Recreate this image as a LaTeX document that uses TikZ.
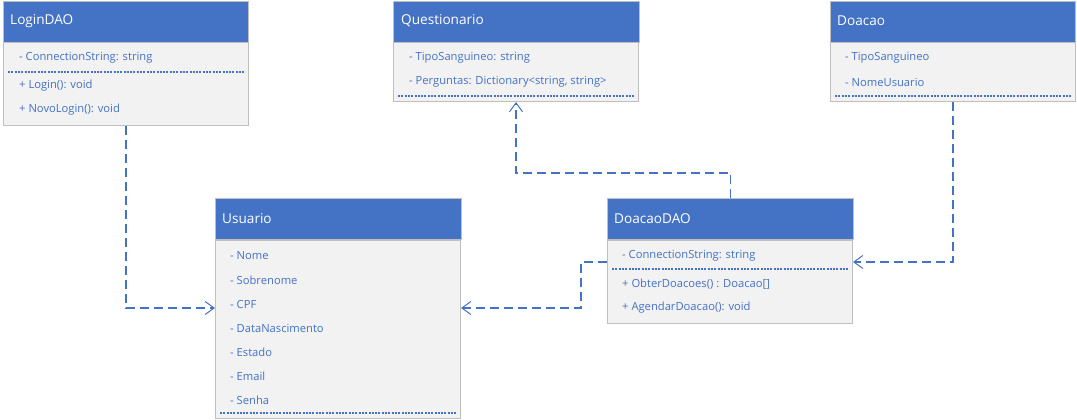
\documentclass[tikz,border=0pt]{standalone}
\usepackage{fontspec}
\setmainfont{Open Sans}
\usetikzlibrary{arrows.meta,calc}
\definecolor{hdrblue}{HTML}{4472C4}
\definecolor{txtblue}{HTML}{4472C4}
\definecolor{bodygray}{HTML}{F2F2F2}
\definecolor{boxgray}{HTML}{BFBFBF}
\tikzset{
  hdr/.style={fill=hdrblue, draw=boxgray, line width=1pt, minimum height=41pt, minimum width=245pt, inner sep=0pt, anchor=north west},
  bdy/.style={fill=bodygray, draw=boxgray, line width=1pt, minimum width=245pt, inner sep=0pt, anchor=north west},
  htxt/.style={text=white, font=\fontsize{13.6}{15}\selectfont, anchor=west, inner sep=0pt},
  row/.style={text=txtblue, font=\fontsize{11.2}{13}\selectfont, anchor=west, inner sep=0pt},
  sepline/.style={draw=txtblue, line width=1.1pt, dash pattern=on 2pt off 1.3pt},
  dep/.style={draw=txtblue, line width=1.3pt, dash pattern=on 9pt off 5pt, -{Straight Barb[length=9pt,width=13pt,line width=1pt]}},
}
\begin{document}
\begin{tikzpicture}[x=1pt,y=-1pt]
\useasboundingbox (0,0) rectangle (1077,420);
% LoginDAO
\node[bdy, minimum height=84pt] (loginB) at (3,41) {};
\node[hdr] (loginH) at (3,1) {};
\node[htxt] (loginT) at (10,21) {LoginDAO};
\node[row] (l1) at (19,58) {- ConnectionString: string};
\draw[sepline] (8,72) -- (244,72);
\node[row] (l2) at (19,86) {+ Login(): void};
\node[row] (l3) at (19,110) {+ NovoLogin(): void};
% Questionario
\node[bdy, minimum height=60pt] (questB) at (393,41) {};
\node[hdr, minimum width=246pt] (questH) at (393,1) {};
\node[htxt] (questT) at (401,21) {Questionario};
\node[row] (q1) at (409,58) {- TipoSanguineo: string};
\node[row] (q2) at (409,82) {- Perguntas: Dictionary<string, string>};
\draw[sepline] (398,96) -- (635,96);
% Doacao
\node[bdy, minimum height=60pt] (doaB) at (830,41) {};
\node[hdr] (doaH) at (830,1) {};
\node[htxt] (doaT) at (837,21) {Doacao};
\node[row] (d1) at (845,58) {- TipoSanguineo};
\node[row] (d2) at (845,82) {- NomeUsuario};
\draw[sepline] (835,96) -- (1071,96);
% Usuario
\node[bdy, minimum height=178pt] (usuB) at (215,240) {};
\node[hdr, minimum width=246pt] (usuH) at (215,198) {};
\node[htxt] (usuT) at (222,219) {Usuario};
\node[row] (u1) at (230,256) {- Nome};
\node[row] (u2) at (230,280) {- Sobrenome};
\node[row] (u3) at (230,304) {- CPF};
\node[row] (u4) at (230,328) {- DataNascimento};
\node[row] (u5) at (230,352) {- Estado};
\node[row] (u6) at (230,376) {- Email};
\node[row] (u7) at (230,400) {- Senha};
\draw[sepline] (220,413) -- (457,413);
% DoacaoDAO
\node[bdy, minimum height=83pt] (ddaoB) at (607,240) {};
\node[hdr, minimum width=246pt] (ddaoH) at (607,198) {};
\node[htxt] (ddaoT) at (614,219) {DoacaoDAO};
\node[row] (dd1) at (622,256) {- ConnectionString: string};
\draw[sepline] (612,269) -- (849,269);
\node[row] (dd2) at (622,284) {+ ObterDoacoes() : Doacao[]};
\node[row] (dd3) at (622,308) {+ AgendarDoacao(): void};
% connectors
\coordinate (uL) at (usuB.west |- 0,308);
\coordinate (uR) at (usuB.east |- 0,308);
\coordinate (ddL) at (ddaoB.west |- 0,262);
\coordinate (ddR) at (ddaoB.east |- 0,262);
\draw[dep] (loginB.south) |- (uL);
\draw[dep] (ddaoH.north) -- ++(0,-25) -| (questB.south);
\draw[dep] (doaB.south) |- (ddR);
\draw[dep] (ddL) -- ++(-26,0) |- (uR);
\end{tikzpicture}
\end{document}
